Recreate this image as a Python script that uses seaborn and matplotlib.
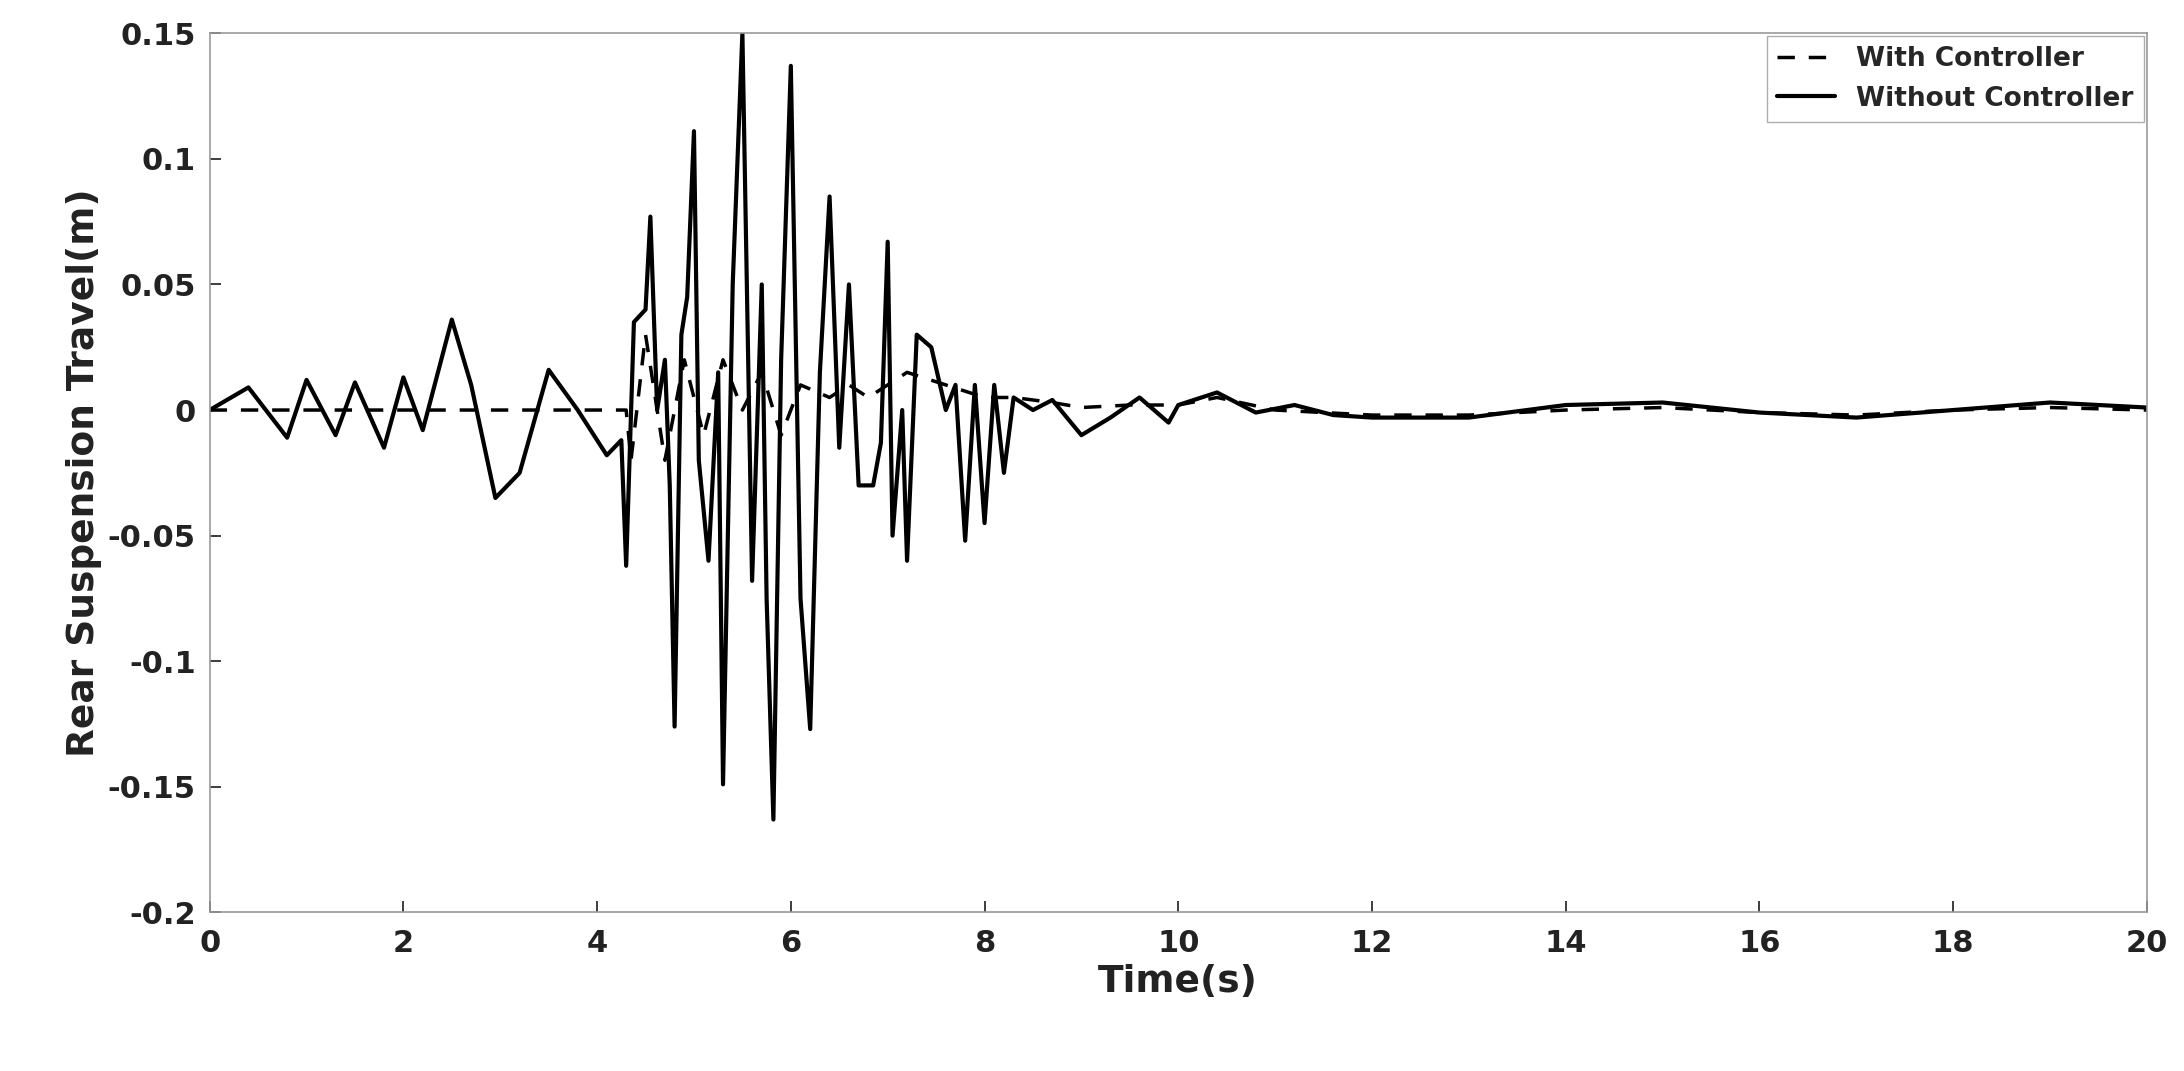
import matplotlib
matplotlib.use("Agg")
import matplotlib.pyplot as plt
import seaborn as sns
import pandas as pd

t_without = [0,0.4,0.8,1.0,1.3,1.5,1.8,2.0,2.2,2.5,2.7,2.95,3.2,3.5,3.8,4.1,4.25,4.3,4.38,4.5,4.55,4.62,4.7,4.75,4.8,4.87,4.93,5.0,5.05,5.15,5.25,5.3,5.4,5.5,5.6,5.7,5.75,5.82,5.9,6.0,6.1,6.2,6.3,6.4,6.5,6.6,6.7,6.85,6.93,7.0,7.05,7.15,7.2,7.3,7.45,7.6,7.7,7.8,7.9,8.0,8.1,8.2,8.3,8.5,8.7,9.0,9.3,9.6,9.9,10.0,10.4,10.8,11.2,11.6,12.0,13,14,15,16,17,18,19,20]
y_without = [0,0.009,-0.011,0.012,-0.01,0.011,-0.015,0.013,-0.008,0.036,0.01,-0.035,-0.025,0.016,0,-0.018,-0.012,-0.062,0.035,0.04,0.077,0.0,0.02,-0.03,-0.126,0.03,0.045,0.111,-0.02,-0.06,0.015,-0.149,0.05,0.15,-0.068,0.05,-0.075,-0.163,0.02,0.137,-0.075,-0.127,0.015,0.085,-0.015,0.05,-0.03,-0.03,-0.013,0.067,-0.05,0.0,-0.06,0.03,0.025,0.0,0.01,-0.052,0.01,-0.045,0.01,-0.025,0.005,0.0,0.004,-0.01,-0.003,0.005,-0.005,0.002,0.007,-0.001,0.002,-0.002,-0.003,-0.003,0.002,0.003,-0.001,-0.003,0.0,0.003,0.001]

t_with = [0,4.3,4.35,4.5,4.7,4.9,5.1,5.3,5.5,5.7,5.9,6.1,6.4,6.6,6.8,7.2,7.6,8.0,8.3,8.7,9.0,9.5,10.0,10.4,11,12,13,14,15,16,17,18,19,20]
y_with = [0,0,-0.02,0.03,-0.02,0.02,-0.01,0.02,0.0,0.015,-0.01,0.01,0.005,0.01,0.005,0.015,0.01,0.005,0.005,0.003,0.001,0.002,0.002,0.005,0.0,-0.002,-0.002,0.0,0.001,-0.001,-0.002,0.0,0.001,0.0]

sns.set_theme(style="white")
plt.rcParams['font.family'] = ['DejaVu Sans']
plt.rcParams['font.weight'] = 'bold'

df_with = pd.DataFrame({"t": t_with, "y": y_with})
df_without = pd.DataFrame({"t": t_without, "y": y_without})

fig = plt.figure(figsize=(21.84, 10.71), dpi=100)
ax = fig.add_axes([0.096, 0.148, 0.887, 0.821])
sns.lineplot(data=df_with, x="t", y="y", ax=ax, color="black", linestyle=(0, (5, 4)), linewidth=2.5, label="With Controller")
sns.lineplot(data=df_without, x="t", y="y", ax=ax, color="black", linewidth=3, label="Without Controller")

ax.set_xlim(0, 20)
ax.set_ylim(-0.2, 0.15)
ax.set_xticks(range(0, 21, 2))
ax.set_yticks([-0.2, -0.15, -0.1, -0.05, 0, 0.05, 0.1, 0.15])
ax.set_yticklabels(["-0.2", "-0.15", "-0.1", "-0.05", "0", "0.05", "0.1", "0.15"])
ax.tick_params(labelsize=22, direction="in", length=8, left=True, bottom=True, labelcolor="#222222")
ax.tick_params(axis="x", pad=12)
ax.tick_params(axis="y", pad=10)
for lab in ax.get_xticklabels() + ax.get_yticklabels():
    lab.set_fontweight("bold")
ax.set_xlabel("Time(s)", fontsize=27, fontweight="bold", color="#222222")
ax.set_ylabel("Rear Suspension Travel(m)", fontsize=27, fontweight="bold", color="#222222")
for s in ax.spines.values():
    s.set_color("#999999")
    s.set_linewidth(1.2)
leg = ax.legend(loc="upper right", fontsize=19, frameon=True, fancybox=False, edgecolor="#999999", borderaxespad=0.1, handlelength=2.2)
for txt in leg.get_texts():
    txt.set_fontweight("bold")
fig.savefig("out.png", dpi=100)
